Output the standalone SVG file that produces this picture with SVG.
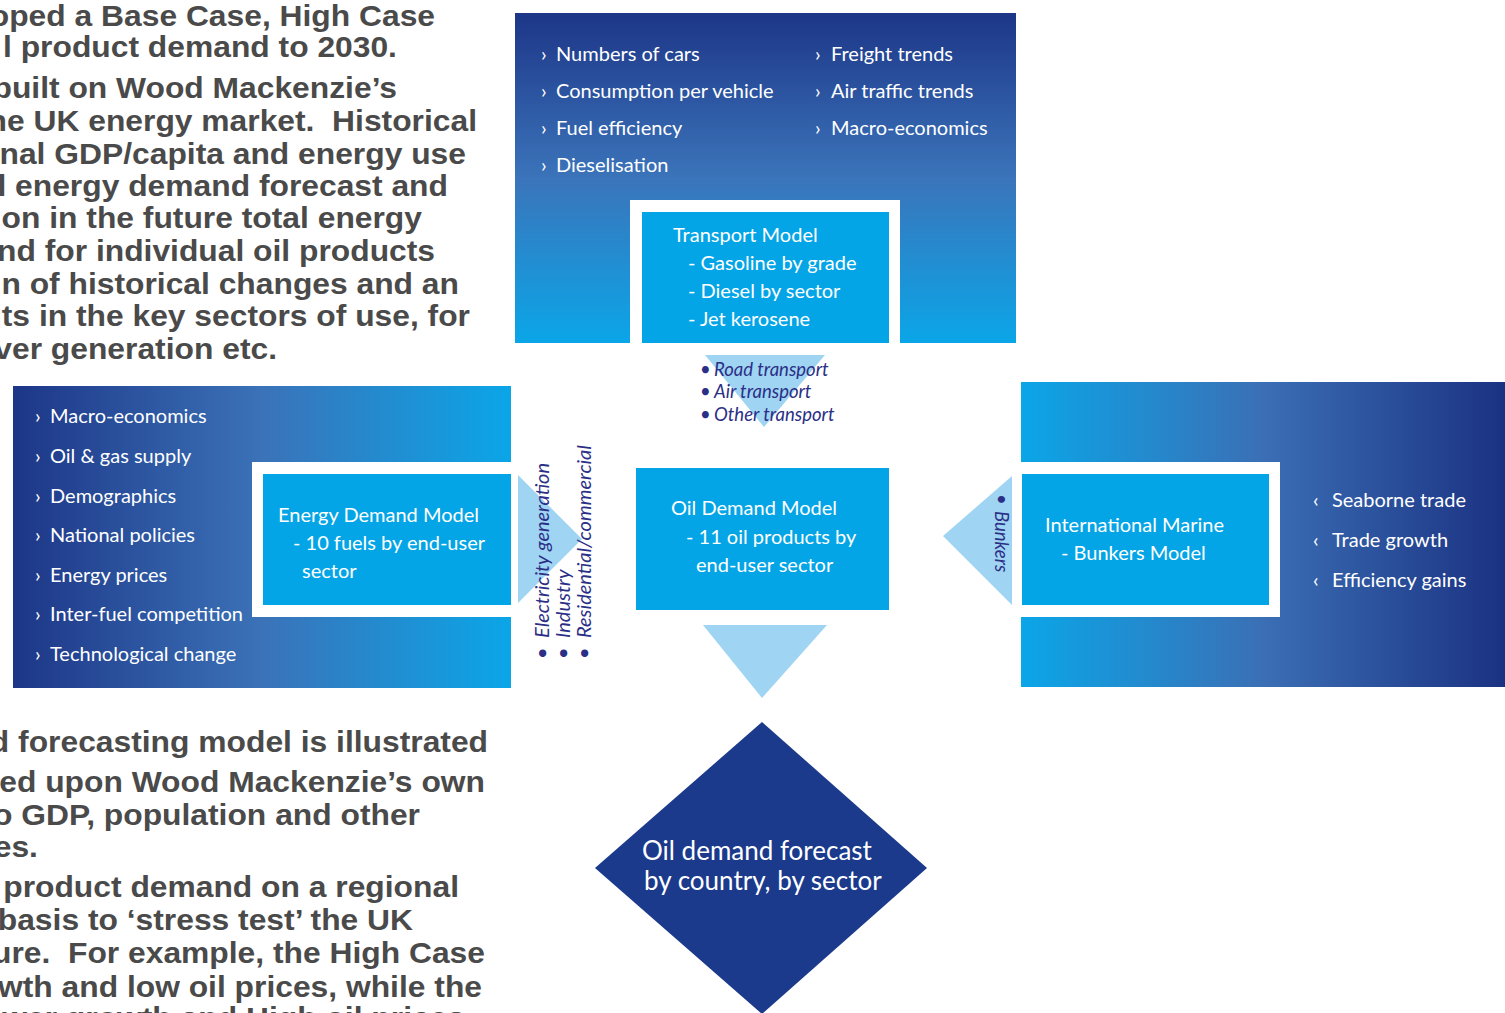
<svg xmlns="http://www.w3.org/2000/svg" width="1505" height="1013" viewBox="0 0 1505 1013">
<defs>
<linearGradient id="gTop" x1="0" y1="0" x2="0" y2="1">
<stop offset="0" stop-color="#1d3687"/>
<stop offset="0.5" stop-color="#3b74ba"/>
<stop offset="1" stop-color="#0aa6e8"/>
</linearGradient>
<linearGradient id="gLeft" x1="0" y1="0" x2="1" y2="0">
<stop offset="0" stop-color="#1d3687"/>
<stop offset="0.5" stop-color="#3b72b8"/>
<stop offset="1" stop-color="#0aa6e8"/>
</linearGradient>
<linearGradient id="gRight" x1="0" y1="0" x2="1" y2="0">
<stop offset="0" stop-color="#0aa6e8"/>
<stop offset="0.5" stop-color="#3b6fb5"/>
<stop offset="1" stop-color="#1b3282"/>
</linearGradient>
<style>
.prose{font-family:"Liberation Sans",Arial,sans-serif;font-weight:bold;font-size:30px;fill:#4a4a4a;text-anchor:end}
.w{font-family:Lato,"Open Sans",sans-serif;font-size:20px;fill:#ffffff}
.box{fill:#04a5e6}
.frame{fill:#ffffff}
.arrow{fill:#9fd4f3}
.lab{font-family:Lato,"Open Sans",sans-serif;font-size:18.5px;font-style:italic;fill:#2b2f86}
.vlab{font-family:Lato,"Open Sans",sans-serif;font-size:20px;font-style:italic;fill:#2b2f86}
.dia{font-family:Lato,"Open Sans",sans-serif;font-size:26px;fill:#ffffff}
</style>
</defs>
<rect width="1505" height="1013" fill="#ffffff"/>

<g id="prose-top" transform="scale(1.06 1)">
<text class="prose" x="410.4" y="26">oped a Base Case, High Case</text>
<text class="prose" x="374.5" y="57">l product demand to 2030.</text>
<text class="prose" x="374.5" y="98">built on Wood Mackenzie’s</text>
<text class="prose" x="450" y="131">he UK energy market.&#160; Historical</text>
<text class="prose" x="439.6" y="164">nal GDP/capita and energy use</text>
<text class="prose" x="422.6" y="196">l energy demand forecast and</text>
<text class="prose" x="398.1" y="228">on in the future total energy</text>
<text class="prose" x="410.4" y="261">nd for individual oil products</text>
<text class="prose" x="433" y="294">n of historical changes and an</text>
<text class="prose" x="443.4" y="326">ts in the key sectors of use, for</text>
<text class="prose" x="261.3" y="359">ver generation etc.</text>
</g>

<g id="prose-bottom" transform="scale(1.06 1)">
<text class="prose" x="460.4" y="752">d forecasting model is illustrated</text>
<text class="prose" x="457.5" y="792">ed upon Wood Mackenzie’s own</text>
<text class="prose" x="396.2" y="825">o GDP, population and other</text>
<text class="prose" x="35.8" y="857">es.</text>
<text class="prose" x="433" y="897">product demand on a regional</text>
<text class="prose" x="389.6" y="930">basis to ‘stress test’ the UK</text>
<text class="prose" x="457.5" y="963">ure.&#160; For example, the High Case</text>
<text class="prose" x="454.7" y="997">wth and low oil prices, while the</text>
<text class="prose" x="438.7" y="1028">and lower growth and High oil prices</text>
</g>

<g id="transport-model">
<rect x="515" y="13" width="501" height="330" fill="url(#gTop)"/>
<g class="w">
<text x="541" y="61">›</text><text x="556" y="61">Numbers of cars</text>
<text x="541" y="98">›</text><text x="556" y="98">Consumption per vehicle</text>
<text x="541" y="135">›</text><text x="556" y="135">Fuel efficiency</text>
<text x="541" y="172">›</text><text x="556" y="172">Dieselisation</text>
<text x="815" y="61">›</text><text x="831" y="61">Freight trends</text>
<text x="815" y="98">›</text><text x="831" y="98">Air traffic trends</text>
<text x="815" y="135">›</text><text x="831" y="135">Macro-economics</text>
</g>
<rect class="frame" x="630" y="200" width="270" height="143"/>
<rect class="box" x="642" y="212" width="247" height="131"/>
<g class="w">
<text x="673" y="242">Transport Model</text>
<text x="688" y="270">- Gasoline by grade</text>
<text x="688" y="298">- Diesel by sector</text>
<text x="688" y="326">- Jet kerosene</text>
</g>
</g>

<g id="energy-demand-model">
<rect x="13" y="386" width="498" height="302" fill="url(#gLeft)"/>
<g class="w">
<text x="35" y="423">›</text><text x="50" y="423">Macro-economics</text>
<text x="35" y="463">›</text><text x="50" y="463">Oil &amp; gas supply</text>
<text x="35" y="503">›</text><text x="50" y="503">Demographics</text>
<text x="35" y="542">›</text><text x="50" y="542">National policies</text>
<text x="35" y="582">›</text><text x="50" y="582">Energy prices</text>
<text x="35" y="621">›</text><text x="50" y="621">Inter-fuel competition</text>
<text x="35" y="661">›</text><text x="50" y="661">Technological change</text>
</g>
<rect class="frame" x="252" y="462" width="259" height="155"/>
<rect class="box" x="263" y="474" width="248" height="131"/>
<g class="w">
<text x="278" y="522">Energy Demand Model</text>
<text x="293" y="550">- 10 fuels by end-user</text>
<text x="302" y="578">sector</text>
</g>
</g>

<g id="marine-bunkers-model">
<rect x="1021" y="382" width="484" height="305" fill="url(#gRight)"/>
<rect class="frame" x="1021" y="462" width="259" height="155"/>
<rect class="box" x="1022" y="474" width="247" height="131"/>
<g class="w">
<text x="1045" y="532">International Marine</text>
<text x="1061" y="560">- Bunkers Model</text>
<text x="1313" y="507">‹</text><text x="1332" y="507">Seaborne trade</text>
<text x="1313" y="547">‹</text><text x="1332" y="547">Trade growth</text>
<text x="1313" y="587">‹</text><text x="1332" y="587">Efficiency gains</text>
</g>
</g>

<g id="oil-demand-model">
<rect class="box" x="636" y="468" width="253" height="142"/>
<g class="w">
<text x="671" y="515">Oil Demand Model</text>
<text x="686" y="544">- 11 oil products by</text>
<text x="696" y="572">end-user sector</text>
</g>
</g>

<g id="oil-demand-forecast">
<polygon points="762,722 927,868 762,1014 595,868" fill="#1b3a8c"/>
<text class="dia" x="642" y="860">Oil demand forecast</text>
<text class="dia" x="644" y="890">by country, by sector</text>
</g>

<g id="connectors">
<polygon class="arrow" points="705,355 825,355 764,427"/>
<text class="lab" x="700" y="376">•</text><text class="lab" x="714" y="376">Road transport</text>
<text class="lab" x="700" y="398">•</text><text class="lab" x="714" y="398">Air transport</text>
<text class="lab" x="700" y="421">•</text><text class="lab" x="714" y="421">Other transport</text>

<polygon class="arrow" points="518,475 518,603 582,539"/>
<text class="vlab" transform="translate(549,659) rotate(-90)">•</text>
<text class="vlab" transform="translate(549,638) rotate(-90)">Electricity generation</text>
<text class="vlab" transform="translate(570,659) rotate(-90)">•</text>
<text class="vlab" transform="translate(570,638) rotate(-90)">Industry</text>
<text class="vlab" transform="translate(591,659) rotate(-90)">•</text>
<text class="vlab" transform="translate(591,638) rotate(-90)">Residential/commercial</text>

<polygon class="arrow" points="1012,476 1012,605 943,536"/>
<text class="lab" transform="translate(995,494) rotate(90)">•</text>
<text class="lab" transform="translate(995,511) rotate(90)">Bunkers</text>

<polygon class="arrow" points="703,625 827,625 762,698"/>
</g>
</svg>
